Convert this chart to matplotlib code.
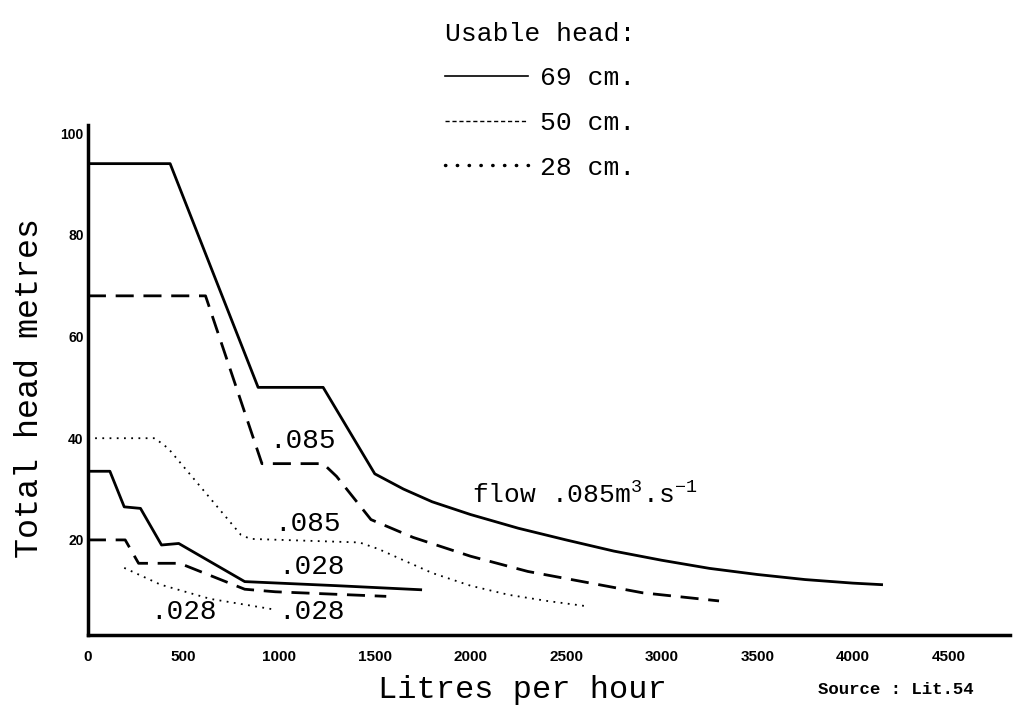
import matplotlib
matplotlib.use("Agg")
import matplotlib.pyplot as plt
from matplotlib.lines import Line2D

plt.rcParams['mathtext.default'] = 'regular'

# flow .085 m3/s curves (litres per hour vs total head)
x69_085 = [0, 430, 890, 1230, 1500, 1650, 1800, 2000, 2250, 2500, 2750, 3000, 3250, 3500, 3750, 4000, 4150]
y69_085 = [94, 94, 50, 50, 33, 30, 27.5, 25, 22.3, 20, 17.8, 16, 14.4, 13.2, 12.2, 11.5, 11.2]

x50_085 = [0, 615, 910, 1230, 1300, 1480, 1700, 2000, 2300, 2600, 2900, 3100, 3300]
y50_085 = [68, 68, 35, 35, 32.5, 24, 20.5, 16.8, 13.8, 11.7, 9.6, 8.8, 8]

x28_085 = [0, 350, 420, 800, 850, 1420, 1520, 1650, 1800, 2000, 2200, 2400, 2600]
y28_085 = [40, 40, 38, 21, 20.2, 19.5, 18.2, 16, 13.5, 11, 9.2, 8, 7]

# flow .028 m3/s curves
x69_028 = [0, 115, 190, 275, 385, 475, 820, 1300, 1740]
y69_028 = [33.5, 33.5, 26.5, 26.2, 19, 19.3, 11.8, 11, 10.2]

x50_028 = [0, 195, 265, 480, 820, 980, 1560]
y50_028 = [20, 20, 15.4, 15.4, 10.3, 9.8, 8.9]

x28_028 = [190, 380, 640, 800, 960]
y28_028 = [14.5, 11.2, 8.4, 7.4, 6.4]

xticks = [0, 500, 1000, 1500, 2000, 2500, 3000, 3500, 4000, 4500]
yticks = [20, 40, 60, 80, 100]

mono = 'Liberation Mono'
solid = dict(color='black', lw=2.0, ls='-')
dashed = dict(color='black', lw=2.0, ls=(0, (6.5, 3.5)))
dotted = dict(color='black', lw=1.3, ls=(0, (1, 3)))

fig = plt.figure(figsize=(10.22, 7.05), dpi=100)
ax = fig.add_axes([0.086, 0.0993, 0.902, 0.7234])

ax.plot(x69_085, y69_085, **solid)
ax.plot(x50_085, y50_085, **dashed)
ax.plot(x28_085, y28_085, **dotted)
ax.plot(x69_028, y69_028, **solid)
ax.plot(x50_028, y50_028, **dashed)
ax.plot(x28_028, y28_028, **dotted)

ax.set_xlim(0, 4820)
ax.set_ylim(1.3, 101.6)
for s in ['top', 'right']:
    ax.spines[s].set_visible(False)
for s in ['left', 'bottom']:
    ax.spines[s].set_linewidth(2.5)
ax.set_xticks(xticks)
ax.set_yticks(yticks)
ax.tick_params(axis='x', length=0, pad=11)
ax.tick_params(axis='y', length=0, pad=3)
for lab in ax.get_xticklabels() + ax.get_yticklabels():
    lab.set_fontfamily('Liberation Sans')
    lab.set_fontweight('bold')
for lab in ax.get_xticklabels():
    lab.set_fontsize(11)
for lab in ax.get_yticklabels():
    lab.set_fontsize(10)

ax.set_xlabel('Litres per hour', family=mono, fontsize=23, va='center')
ax.xaxis.set_label_coords(0.471, -0.108)
ax.set_ylabel('Total head metres', family=mono, fontsize=24, va='center')
ax.yaxis.set_label_coords(-0.063, 0.484)

# curve labels
lab_kw = dict(family=mono, fontsize=20, ha='center', va='center')
ax.text(1120, 39.5, '.085', **lab_kw)
ax.text(1150, 23.2, '.085', **lab_kw)
ax.text(1170, 14.6, '.028', **lab_kw)
ax.text(500, 5.8, '.028', **lab_kw)
ax.text(1170, 5.9, '.028', **lab_kw)
ax.text(2010, 28.8, 'flow .085m$^{3}$.s$^{-1}$', family=mono, fontsize=19,
        ha='left', va='center')

fig.text(0.80, 0.022, 'Source : Lit.54', family=mono, fontsize=12.5,
         fontweight='bold', ha='left', va='center')

# key for the usable head
handles = [Line2D([], [], color='black', lw=1.2, ls='-'),
           Line2D([], [], color='black', lw=1.0, ls=(0, (3, 2))),
           Line2D([], [], color='black', lw=2.5, ls=(0, (0.1, 3.3)),
                  dash_capstyle='round')]
leg = fig.legend(handles, ['69 cm.', '50 cm.', '28 cm.'], title='Usable head:',
                 loc='upper left', bbox_to_anchor=(0.435, 0.969), frameon=False,
                 prop={'family': mono, 'size': 19}, handlelength=3.15,
                 handletextpad=0.45, labelspacing=0.78, borderpad=0,
                 borderaxespad=0)
leg.get_title().set_fontfamily(mono)
leg.get_title().set_fontsize(19)
leg._legend_box.align = 'left'

fig.savefig('out.png', dpi=100)
